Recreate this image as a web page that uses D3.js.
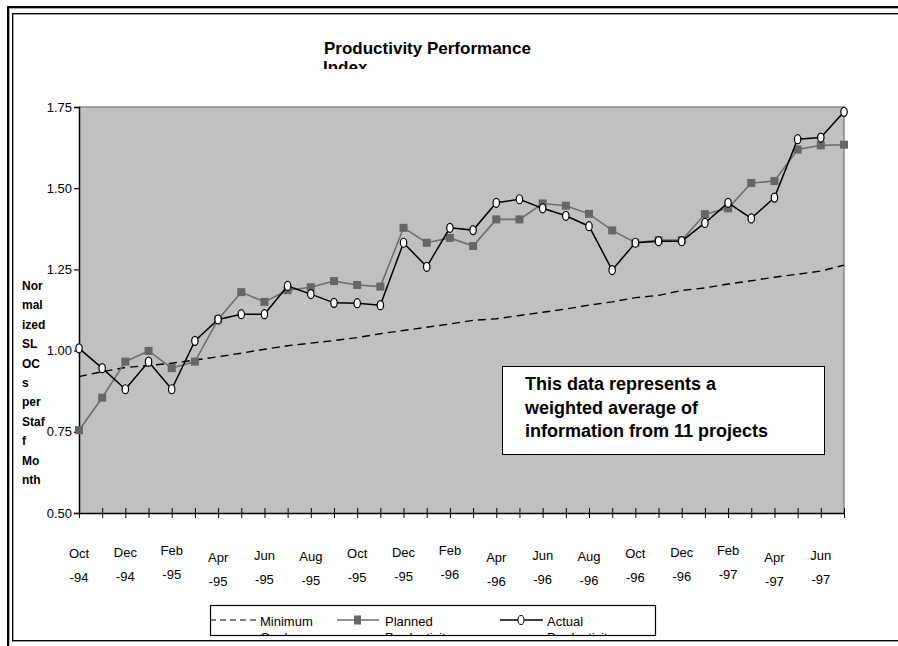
<!DOCTYPE html>
<html>
<head>
<meta charset="utf-8">
<script src="https://cdn.jsdelivr.net/npm/d3@7"></script>
<style>
  body { margin: 0; background: #fff; }
  svg { display: block; font-family: "Liberation Sans", Arial, sans-serif; }
</style>
</head>
<body>
<script>
(function(){
	//monthly categories, Oct-94 .. Jul-97
	var months = ["Oct-94","Nov-94","Dec-94","Jan-95","Feb-95","Mar-95","Apr-95","May-95","Jun-95","Jul-95","Aug-95","Sep-95",
		"Oct-95","Nov-95","Dec-95","Jan-96","Feb-96","Mar-96","Apr-96","May-96","Jun-96","Jul-96","Aug-96","Sep-96",
		"Oct-96","Nov-96","Dec-96","Jan-97","Feb-97","Mar-97","Apr-97","May-97","Jun-97","Jul-97"];
	var minimumGoal = [0.920,0.935,0.948,0.954,0.961,0.971,0.981,0.992,1.004,1.015,1.023,1.031,
		1.040,1.052,1.062,1.072,1.082,1.093,1.098,1.108,1.118,1.128,1.140,1.150,
		1.163,1.170,1.185,1.193,1.205,1.215,1.226,1.235,1.245,1.263];
	var planned = [0.755,0.855,0.966,0.999,0.946,0.966,1.096,1.180,1.150,1.186,1.195,1.214,
		1.202,1.197,1.378,1.332,1.347,1.322,1.404,1.404,1.453,1.446,1.421,1.370,
		1.332,1.340,1.340,1.420,1.438,1.516,1.522,1.619,1.632,1.634];
	var actual = [1.007,0.946,0.881,0.966,0.881,1.030,1.096,1.112,1.112,1.199,1.174,1.147,
		1.146,1.140,1.332,1.258,1.378,1.371,1.455,1.466,1.438,1.415,1.383,1.248,
		1.332,1.337,1.337,1.393,1.455,1.407,1.471,1.651,1.656,1.735];
	var yTicks = [0.50,0.75,1.00,1.25,1.50,1.75];
	var yTitleLines = ["Nor","mal","ized","SL","OC","s","per","Staf","f","Mo","nth"];
	var titleLines = ["Productivity Performance","Index"];
	var noteLines = ["This data represents a","weighted average of","information from 11 projects"];
	var legendItems = [["Minimum","Goal"],["Planned","Productivity"],["Actual","Productivity"]];

	//vertical nudge of the month labels (Excel staggering)
	var labelNudge = {Oct:1, Dec:0, Feb:-2, Apr:5, Jun:3, Aug:4};

window.onload = setChart();

function setChart(){
	var width = 898,
		height = 646;

	var svg = d3.select("body")
		.append("svg")
		.attr("width", width)
		.attr("height", height);

	setFrame(svg);

	var x = d3.scalePoint()
		.domain(months)
		.range([79, 844]);

	var y = d3.scaleLinear()
		.domain([0.5, 1.75])
		.range([513, 107]);

	//plot area
	svg.append("rect")
		.attr("x", x.range()[0])
		.attr("y", y(1.75))
		.attr("width", x.range()[1] - x.range()[0])
		.attr("height", y(0.5) - y(1.75))
		.style("fill", "#c0c0c0");

	svg.append("path")
		.attr("d", "M" + x.range()[0] + "," + y(1.75) + "H" + x.range()[1] + "V" + y(0.5))
		.style("fill", "none")
		.style("stroke", "#888")
		.style("stroke-width", 1.5);

	setAxes(svg, x, y);
	setTitle(svg);

	var lineGen = function(vals){
		return d3.line()
			.x(function(d, i){ return x(months[i]); })
			.y(function(d){ return y(d); })(vals);
	};

	svg.append("path")
		.attr("d", lineGen(minimumGoal))
		.style("fill", "none")
		.style("stroke", "#000")
		.style("stroke-width", 1.4)
		.style("stroke-dasharray", "8,5");

	svg.append("path")
		.attr("d", lineGen(planned))
		.style("fill", "none")
		.style("stroke", "#6e6e6e")
		.style("stroke-width", 1.6);

	svg.selectAll(".plannedPts")
		.data(planned)
		.enter()
		.append("rect")
		.attr("class", "plannedPts")
		.attr("x", function(d, i){ return x(months[i]) - 4; })
		.attr("y", function(d){ return y(d) - 4; })
		.attr("width", 8)
		.attr("height", 8)
		.style("fill", "#666");

	svg.append("path")
		.attr("d", lineGen(actual))
		.style("fill", "none")
		.style("stroke", "#000")
		.style("stroke-width", 1.5);

	svg.selectAll(".actualPts")
		.data(actual)
		.enter()
		.append("ellipse")
		.attr("class", "actualPts")
		.attr("cx", function(d, i){ return x(months[i]); })
		.attr("cy", function(d){ return y(d); })
		.attr("rx", 3.2)
		.attr("ry", 4.5)
		.style("fill", "#fff")
		.style("stroke", "#000")
		.style("stroke-width", 1.2);

	setNote(svg);
	setLegend(svg);
};

function setFrame(svg){
	//double border of the sheet
	var frame = svg.append("g").style("fill", "none").style("shape-rendering", "crispEdges");
	frame.append("path").attr("d", "M8,646V7H898").style("stroke", "#000").style("stroke-width", 1.5);
	frame.append("path").attr("d", "M9,646V8H898").style("stroke", "#aaa");
	frame.append("path").attr("d", "M12.5,640V13.5H898").style("stroke", "#000").style("stroke-width", 1.5);
	frame.append("path").attr("d", "M13.5,640V14.5H898").style("stroke", "#999");
	frame.append("path").attr("d", "M12,640.5H898").style("stroke", "#000").style("stroke-width", 1.5);
	frame.append("path").attr("d", "M12,641.5H898").style("stroke", "#999");
};

function setAxes(svg, x, y){
	var xAxis = d3.axisBottom(x)
		.tickSizeInner(5)
		.tickSizeOuter(0)
		.tickFormat("");

	var gx = svg.append("g")
		.attr("transform", "translate(0," + y(0.5) + ")")
		.call(xAxis);
	gx.select(".domain").style("stroke", "#000").style("stroke-width", 1.5);
	//ticks cross the axis
	gx.selectAll(".tick line").attr("y1", -5).attr("y2", 5).style("stroke", "#000");

	var labels = svg.selectAll(".monthLabel")
		.data(months.filter(function(d, i){ return i % 2 == 0; }))
		.enter()
		.append("text")
		.attr("class", "monthLabel")
		.attr("text-anchor", "middle")
		.style("font-size", "13px")
		.attr("transform", function(d){
			var nudge = labelNudge[d.split("-")[0]] || 0;
			return "translate(" + x(d) + "," + (557 + nudge) + ")";
		});
	labels.append("tspan").attr("x", 0).attr("y", 0).text(function(d){ return d.split("-")[0]; });
	labels.append("tspan").attr("x", 0).attr("y", 24).text(function(d){ return "-" + d.split("-")[1]; });

	var yAxis = d3.axisLeft(y)
		.tickValues(yTicks)
		.tickSize(5)
		.tickFormat(d3.format(".2f"));

	var gy = svg.append("g")
		.attr("transform", "translate(" + x.range()[0] + ",0)")
		.call(yAxis);
	gy.select(".domain").style("stroke", "#000").style("stroke-width", 1.5);
	gy.selectAll(".tick line").style("stroke", "#000").style("stroke-width", 1.2);
	gy.selectAll(".tick text")
		.attr("x", -7)
		.style("font-family", "Liberation Sans, Arial, sans-serif")
		.style("font-size", "13px")
		.style("fill", "#000");

	svg.append("text")
		.attr("x", 22)
		.attr("y", 290)
		.style("font-size", "12px")
		.style("font-weight", "bold")
		.selectAll("tspan")
		.data(yTitleLines)
		.enter()
		.append("tspan")
		.attr("x", 22)
		.attr("dy", function(d, i){ return i == 0 ? 0 : 19.4; })
		.text(function(d){ return d; });
};

function setTitle(svg){
	//second title line is cut off in the original
	svg.append("clipPath")
		.attr("id", "titleClip")
		.append("rect")
		.attr("x", 0)
		.attr("y", 0)
		.attr("width", 898)
		.attr("height", 69);

	svg.append("text")
		.attr("clip-path", "url(#titleClip)")
		.attr("y", 54)
		.style("font-size", "17px")
		.style("font-weight", "bold")
		.selectAll("tspan")
		.data(titleLines)
		.enter()
		.append("tspan")
		.attr("x", function(d, i){ return i == 0 ? 324 : 323; })
		.attr("dy", function(d, i){ return i == 0 ? 0 : 19; })
		.text(function(d){ return d; });
};

function setNote(svg){
	svg.append("rect")
		.attr("x", 502.5)
		.attr("y", 366.5)
		.attr("width", 322)
		.attr("height", 88)
		.style("fill", "#fff")
		.style("stroke", "#000")
		.style("stroke-width", 1);

	svg.append("text")
		.attr("y", 390)
		.style("font-size", "18px")
		.style("font-weight", "bold")
		.selectAll("tspan")
		.data(noteLines)
		.enter()
		.append("tspan")
		.attr("x", 525)
		.attr("dy", function(d, i){ return i == 0 ? 0 : 23.5; })
		.text(function(d){ return d; });
};

function setLegend(svg){
	var lx = 210, ly = 605, lw = 445, lh = 30;

	svg.append("clipPath")
		.attr("id", "legendClip")
		.append("rect")
		.attr("x", lx)
		.attr("y", ly)
		.attr("width", lw)
		.attr("height", lh);

	var legend = svg.append("g");

	legend.append("rect")
		.attr("x", lx + 0.5)
		.attr("y", ly + 0.5)
		.attr("width", lw)
		.attr("height", lh)
		.style("fill", "#fff")
		.style("stroke", "#000")
		.style("stroke-width", 1.2);

	var keyX = [210, 337, 500],
		textX = [260, 385, 547],
		yKey = 620;

	legend.append("line")
		.attr("x1", keyX[0]).attr("x2", keyX[0] + 46)
		.attr("y1", yKey).attr("y2", yKey)
		.style("stroke", "#000")
		.style("stroke-dasharray", "6,4");

	legend.append("line")
		.attr("x1", keyX[1]).attr("x2", keyX[1] + 42)
		.attr("y1", yKey).attr("y2", yKey)
		.style("stroke", "#6e6e6e")
		.style("stroke-width", 1.4);
	legend.append("rect")
		.attr("x", keyX[1] + 17).attr("y", yKey - 4.5)
		.attr("width", 7).attr("height", 9)
		.style("fill", "#666");

	legend.append("line")
		.attr("x1", keyX[2]).attr("x2", keyX[2] + 43)
		.attr("y1", yKey).attr("y2", yKey)
		.style("stroke", "#000")
		.style("stroke-width", 1.3);
	legend.append("ellipse")
		.attr("cx", keyX[2] + 21).attr("cy", yKey)
		.attr("rx", 3).attr("ry", 4.5)
		.style("fill", "#fff")
		.style("stroke", "#000");

	legend.selectAll(".legendText")
		.data(legendItems)
		.enter()
		.append("text")
		.attr("class", "legendText")
		.attr("clip-path", "url(#legendClip)")
		.attr("y", 626)
		.style("font-size", "13px")
		.each(function(d, i){
			d3.select(this).selectAll("tspan")
				.data(d)
				.enter()
				.append("tspan")
				.attr("x", textX[i])
				.attr("dy", function(t, j){ return j == 0 ? 0 : 16; })
				.text(function(t){ return t; });
		});
};

})();
</script>
</body>
</html>
